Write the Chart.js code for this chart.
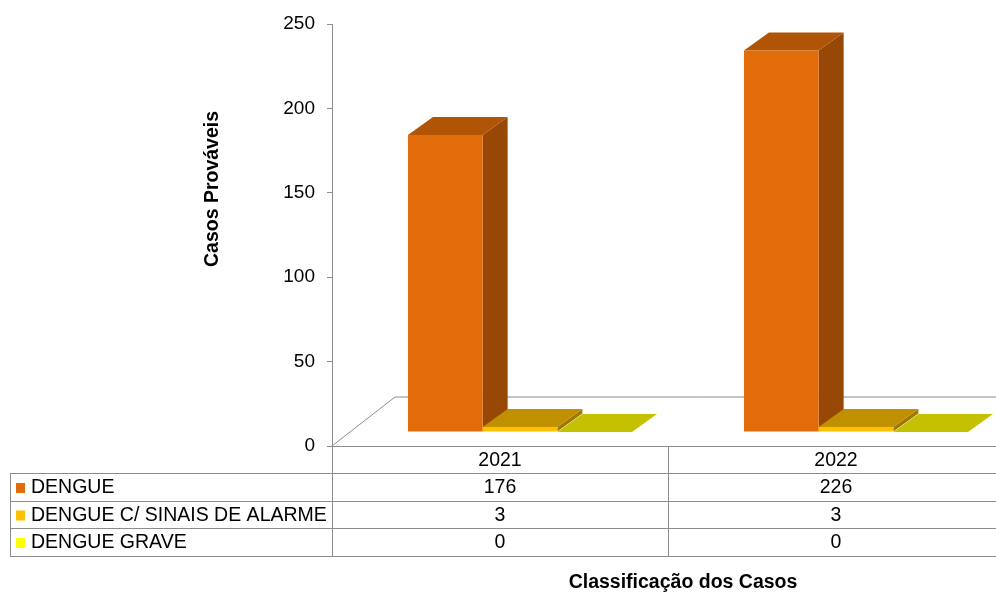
<!DOCTYPE html>
<html>
<head>
<meta charset="utf-8">
<script src="https://cdn.jsdelivr.net/npm/chart.js@4.4.1/dist/chart.umd.min.js"></script>
<style>
html, body { margin: 0; padding: 0; overflow: hidden; background: #fff; }
#wrap { width: 1004px; height: 593px; }
</style>
</head>
<body>
<div id="wrap"><canvas id="chart"></canvas></div>
<script>
// data
const years = ["2021", "2022"];
const seriesNames = ["DENGUE", "DENGUE C/ SINAIS DE ALARME", "DENGUE GRAVE"];
const dengue = [176, 226];
const alarme = [3, 3];
const grave = [0, 0];

const yTitle = "Casos Prováveis";
const xTitle = "Classificação dos Casos";

// colors: front, top, side
const faces = [
    ["#e36c0a", "#b05406", "#974806"],
    ["#ffc000", "#c09000", "#a07800"],
    ["#ffff00", "#c4c200", "#a0a000"]
];

const FONT = "Liberation Sans, Arial, sans-serif";
const LINE = "#8c8c8c";

// 3D look: bars sit a bit back on the floor
const shiftX = 20, shiftY = -14;
const depthX = 25, depthY = -18;

const bars3d = {
    id: "bars3d",
    beforeDatasetsDraw(chart) {
        const ctx = chart.ctx;
        const a = chart.chartArea;
        ctx.save();
        ctx.strokeStyle = LINE;
        ctx.lineWidth = 1;
        ctx.beginPath();
        ctx.moveTo(a.left, a.bottom);
        ctx.lineTo(a.left + 63, a.bottom - 49);
        ctx.lineTo(a.right, a.bottom - 49);
        ctx.stroke();
        ctx.restore();
    },
    afterDatasetsDraw(chart) {
        const ctx = chart.ctx;
        ctx.save();
        for (let c = 0; c < years.length; c++) {
            for (let d = 0; d < chart.data.datasets.length; d++) {
                let el = chart.getDatasetMeta(d).data[c];
                let l = el.x - el.width / 2 + shiftX;
                let r = el.x + el.width / 2 + shiftX;
                let t = el.y + shiftY;
                let b = el.base + shiftY;
                let f = faces[d];

                // side
                ctx.fillStyle = f[2];
                ctx.beginPath();
                ctx.moveTo(r, t);
                ctx.lineTo(r + depthX, t + depthY);
                ctx.lineTo(r + depthX, b + depthY);
                ctx.lineTo(r, b);
                ctx.closePath();
                ctx.fill();

                // top
                ctx.fillStyle = f[1];
                ctx.beginPath();
                ctx.moveTo(l, t);
                ctx.lineTo(l + depthX, t + depthY);
                ctx.lineTo(r + depthX, t + depthY);
                ctx.lineTo(r, t);
                ctx.closePath();
                ctx.fill();

                // front
                if (b - t > 0) {
                    ctx.fillStyle = f[0];
                    ctx.fillRect(l, t, r - l, b - t);
                }
            }
        }
        ctx.restore();
    },
    afterDraw(chart) {
        const ctx = chart.ctx;
        const a = chart.chartArea;
        const xs = chart.scales.x;
        const rows = [446, 473, 501, 528, 556];
        const tableLeft = 10;
        const mid = (xs.getPixelForValue(0) + xs.getPixelForValue(1)) / 2;

        ctx.save();
        ctx.strokeStyle = LINE;
        ctx.lineWidth = 1;
        ctx.beginPath();
        // header line
        ctx.moveTo(a.left, rows[0] + 0.5);
        ctx.lineTo(a.right, rows[0] + 0.5);
        for (let i = 1; i < rows.length; i++) {
            ctx.moveTo(tableLeft, rows[i] + 0.5);
            ctx.lineTo(a.right, rows[i] + 0.5);
        }
        ctx.moveTo(tableLeft + 0.5, rows[1]);
        ctx.lineTo(tableLeft + 0.5, rows[4]);
        ctx.moveTo(a.left + 0.5, a.bottom);
        ctx.lineTo(a.left + 0.5, rows[4]);
        ctx.moveTo(Math.round(mid) + 0.5, rows[0]);
        ctx.lineTo(Math.round(mid) + 0.5, rows[4]);
        ctx.stroke();

        ctx.fillStyle = "#000";
        ctx.font = "19.5px " + FONT;
        ctx.textBaseline = "middle";
        ctx.textAlign = "center";
        years.forEach((y, i) => {
            ctx.fillText(y, xs.getPixelForValue(i), (rows[0] + rows[1]) / 2 + 1);
        });
        const values = [dengue, alarme, grave];
        for (let s = 0; s < seriesNames.length; s++) {
            let cy = (rows[s + 1] + rows[s + 2]) / 2 + 1;
            ctx.textAlign = "center";
            ctx.fillStyle = "#000";
            values[s].forEach((v, i) => {
                ctx.fillText(String(v), xs.getPixelForValue(i), cy);
            });
            ctx.fillStyle = faces[s][0];
            ctx.fillRect(16, cy - 5, 9, 10);
            ctx.fillStyle = "#000";
            ctx.textAlign = "left";
            ctx.fillText(seriesNames[s], 31, cy);
        }

        // axis titles
        ctx.font = "bold 19.5px " + FONT;
        ctx.textAlign = "center";
        ctx.fillText(xTitle, 683, 583);
        ctx.translate(213, 189);
        ctx.rotate(-Math.PI / 2);
        ctx.fillText(yTitle, 0, 0);
        ctx.restore();
    }
};

new Chart(document.getElementById("chart"), {
    type: "bar",
    data: {
        labels: years,
        datasets: [
            { label: seriesNames[0], data: dengue },
            { label: seriesNames[1], data: alarme },
            { label: seriesNames[2], data: grave }
        ].map(ds => Object.assign(ds, {
            backgroundColor: "rgba(0,0,0,0)",
            borderWidth: 0,
            categoryPercentage: 0.667,
            barPercentage: 1
        }))
    },
    options: {
        responsive: true,
        maintainAspectRatio: false,
        animation: false,
        layout: { padding: { top: 24, bottom: 147, left: 0, right: 0 } },
        plugins: { legend: { display: false }, tooltip: { enabled: false } },
        scales: {
            x: { display: false },
            y: {
                min: 0,
                max: 250,
                ticks: { stepSize: 50, color: "#000", padding: 12, font: { size: 19, family: FONT } },
                grid: { drawOnChartArea: false, tickLength: 5, color: LINE },
                border: { color: LINE },
                afterFit(s) { s.width = 332; }
            }
        }
    },
    plugins: [bars3d]
});
</script>
</body>
</html>
